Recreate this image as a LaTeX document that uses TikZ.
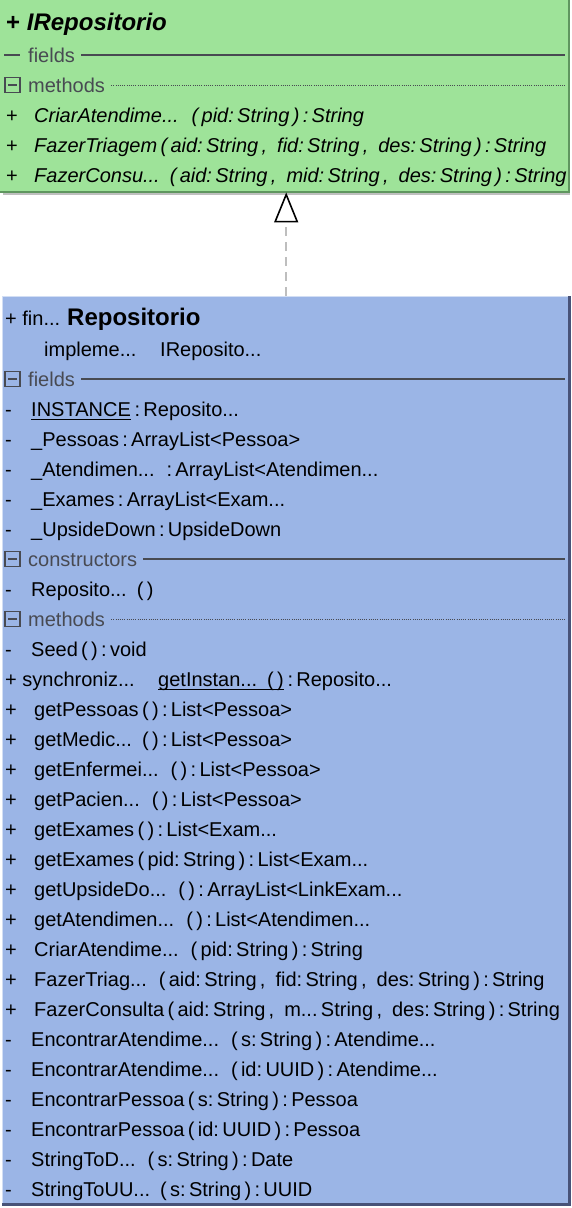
\documentclass[tikz,border=0pt]{standalone}
\usepackage{fontspec}
\setmainfont{Liberation Sans}
\usetikzlibrary{arrows.meta}
\definecolor{gfill}{RGB}{158,227,153}
\definecolor{gdark}{RGB}{95,150,95}
\definecolor{bfill}{RGB}{155,181,230}
\definecolor{bdark}{RGB}{72,82,120}
\definecolor{hdr}{RGB}{72,74,82}
\definecolor{dashgray}{RGB}{190,190,190}
\tikzset{
  row/.style={anchor=west, inner sep=0pt, text height=14pt, text depth=0pt, font=\fontsize{20}{22}\selectfont},
  irow/.style={row, font=\fontsize{20}{22}\selectfont\itshape},
  hdrtext/.style={row, text=hdr},
  sepline/.style={draw=hdr, line width=1.3pt},
  sepdots/.style={draw=hdr, line width=1pt, dash pattern=on 0.8pt off 1.4pt},
  iconbox/.style={draw=hdr, line width=1.5pt},
  uline/.style={draw=black, line width=1.2pt},
  dashline/.style={draw=dashgray, line width=2pt, dash pattern=on 9pt off 6pt},
  realize/.style={-{Triangle[open, length=30pt, width=24pt, line width'=1.6pt, black, fill=white]}}
}
\newcommand\collapseicon[1]{%
  \draw[iconbox] (5,#1-7.5) rectangle (20,#1+7.5);
  \draw[iconbox] (8,#1) -- (17,#1);}
\begin{document}
\begin{tikzpicture}[x=1pt,y=-1pt]
\useasboundingbox (0,0) rectangle (572,1208);
% ---------------- interface box
\node[fill=gfill, draw=none, inner sep=0pt, minimum width=569pt, minimum height=192pt, anchor=north west] (iface) at (0,0) {};
\fill[black!25] (3,193) rectangle (570,195);
\draw[gdark, line width=2pt] (0,192) -- (569,192) -- (569,0);
\node[row, font=\fontsize{24}{26}\selectfont\bfseries] (ititle) at (6,23) {+ \itshape IRepositorio};
\draw[sepline] (4,55) -- (20,55);
\node[hdrtext] (ifields) at (28,55) {fields};
\draw[sepline] ([xshift=6pt]ifields.east) -- (565,55);
\collapseicon{85}
\node[hdrtext] (imethods) at (28,85) {methods};
\draw[sepdots] ([xshift=6pt]imethods.east) -- (565,85);
\node[row] (iv1) at (6,115) {+};
\node[irow] (im1) at (34,115) {CriarAtendime...\hspace{13pt}(\,pid:\,String\,)\,:\,String};
\node[row] (iv2) at (6,145) {+};
\node[irow] (im2) at (34,145) {FazerTriagem\,(\,aid:\,String\,,\enspace fid:\,String\,,\enspace des:\,String\,)\,:\,String};
\node[row] (iv3) at (6,175) {+};
\node[irow] (im3) at (34,175) {FazerConsu...\enspace(\,aid:\,String\,,\enspace mid:\,String\,,\enspace des:\,String\,)\,:\,String};
% ---------------- class box
\node[fill=bfill, draw=none, inner sep=0pt, minimum width=568pt, minimum height=910pt, anchor=north west] (impl) at (2,296) {};
\draw[white!55!bfill, line width=1pt] (2,1205) -- (2,296.5) -- (569,296.5);
\draw[bdark, line width=3pt] (2,1204.5) -- (569.5,1204.5) -- (569.5,296);
\node[row] (ctitlevis) at (5,318) {+ fin...};
\node[row, font=\fontsize{24}{26}\selectfont\bfseries] (ctitle) at (67,318) {Repositorio};
\node[row] (cimpl) at (44,349) {impleme...};
\node[row] (cimplname) at (160,349) {IReposito...};
% fields
\collapseicon{379}
\node[hdrtext] (cfields) at (28,379) {fields};
\draw[sepline] ([xshift=6pt]cfields.east) -- (565,379);
\node[row] (fv1) at (5,409) {-};
\node[row] (f1) at (31,409) {INSTANCE};
\draw[uline] ([yshift=-3.5pt]f1.south west) -- ([yshift=-3.5pt]f1.south east);
\node[row, anchor=west] (f1t) at (f1.east) {\,:\,Reposito...};
\node[row] (fv2) at (5,439) {-};
\node[row] (f2) at (31,439) {\_Pessoas\,:\,ArrayList<Pessoa>};
\node[row] (fv3) at (5,469) {-};
\node[row] (f3) at (31,469) {\_Atendimen...\hspace{12pt}:\,ArrayList<Atendimen...};
\node[row] (fv4) at (5,499) {-};
\node[row] (f4) at (31,499) {\_Exames\,:\,ArrayList<Exam...};
\node[row] (fv5) at (5,529) {-};
\node[row] (f5) at (31,529) {\_UpsideDown\,:\,UpsideDown};
% constructors
\collapseicon{559}
\node[hdrtext] (cctors) at (28,559) {constructors};
\draw[sepline] ([xshift=6pt]cctors.east) -- (565,559);
\node[row] (kv1) at (5,589) {-};
\node[row] (k1) at (31,589) {Reposito...\enspace(\,)};
% methods
\collapseicon{619}
\node[hdrtext] (cmethods) at (28,619) {methods};
\draw[sepdots] ([xshift=6pt]cmethods.east) -- (565,619);
\node[row] (mv1) at (5,649) {-};
\node[row] (m1) at (31,649) {Seed\,(\,)\,:\,void};
\node[row] (mv2) at (5,679) {+ synchroniz...};
\node[row] (m2) at (158,679) {getInstan...\enspace(\,)};
\draw[uline] ([yshift=-3.5pt]m2.south west) -- ([yshift=-3.5pt]m2.south east);
\node[row, anchor=west] (m2t) at (m2.east) {\,:\,Reposito...};
\node[row] (mv3) at (5,709) {+};
\node[row] (m3) at (34,709) {getPessoas\,(\,)\,:\,List<Pessoa>};
\node[row] (mv4) at (5,739) {+};
\node[row] (m4) at (34,739) {getMedic...\enspace(\,)\,:\,List<Pessoa>};
\node[row] (mv5) at (5,769) {+};
\node[row] (m5) at (34,769) {getEnfermei...\hspace{12pt}(\,)\,:\,List<Pessoa>};
\node[row] (mv6) at (5,799) {+};
\node[row] (m6) at (34,799) {getPacien...\hspace{12pt}(\,)\,:\,List<Pessoa>};
\node[row] (mv7) at (5,829) {+};
\node[row] (m7) at (34,829) {getExames\,(\,)\,:\,List<Exam...};
\node[row] (mv8) at (5,859) {+};
\node[row] (m8) at (34,859) {getExames\,(\,pid:\,String\,)\,:\,List<Exam...};
\node[row] (mv9) at (5,889) {+};
\node[row] (m9) at (34,889) {getUpsideDo...\hspace{12pt}(\,)\,:\,ArrayList<LinkExam...};
\node[row] (mv10) at (5,919) {+};
\node[row] (m10) at (34,919) {getAtendimen...\hspace{12pt}(\,)\,:\,List<Atendimen...};
\node[row] (mv11) at (5,949) {+};
\node[row] (m11) at (34,949) {CriarAtendime...\hspace{12pt}(\,pid:\,String\,)\,:\,String};
\node[row] (mv12) at (5,979) {+};
\node[row] (m12) at (34,979) {FazerTriag...\hspace{12pt}(\,aid:\,String\,,\enspace fid:\,String\,,\enspace des:\,String\,)\,:\,String};
\node[row] (mv13) at (5,1009) {+};
\node[row] (m13) at (34,1009) {FazerConsulta\,(\,aid:\,String\,,\enspace m...\,String\,,\enspace des:\,String\,)\,:\,String};
\node[row] (mv14) at (5,1039) {-};
\node[row] (m14) at (31,1039) {EncontrarAtendime...\hspace{12pt}(\,s:\,String\,)\,:\,Atendime...};
\node[row] (mv15) at (5,1069) {-};
\node[row] (m15) at (31,1069) {EncontrarAtendime...\hspace{12pt}(\,id:\,UUID\,)\,:\,Atendime...};
\node[row] (mv16) at (5,1099) {-};
\node[row] (m16) at (31,1099) {EncontrarPessoa\,(\,s:\,String\,)\,:\,Pessoa};
\node[row] (mv17) at (5,1129) {-};
\node[row] (m17) at (31,1129) {EncontrarPessoa\,(\,id:\,UUID\,)\,:\,Pessoa};
\node[row] (mv18) at (5,1159) {-};
\node[row] (m18) at (31,1159) {StringToD...\hspace{12pt}(\,s:\,String\,)\,:\,Date};
\node[row] (mv19) at (5,1189) {-};
\node[row] (m19) at (31,1189) {StringToUU...\enspace(\,s:\,String\,)\,:\,UUID};
% ---------------- realization connector
\draw[dashline, realize] (impl.north) -- (impl.north |- iface.south);
\end{tikzpicture}
\end{document}
